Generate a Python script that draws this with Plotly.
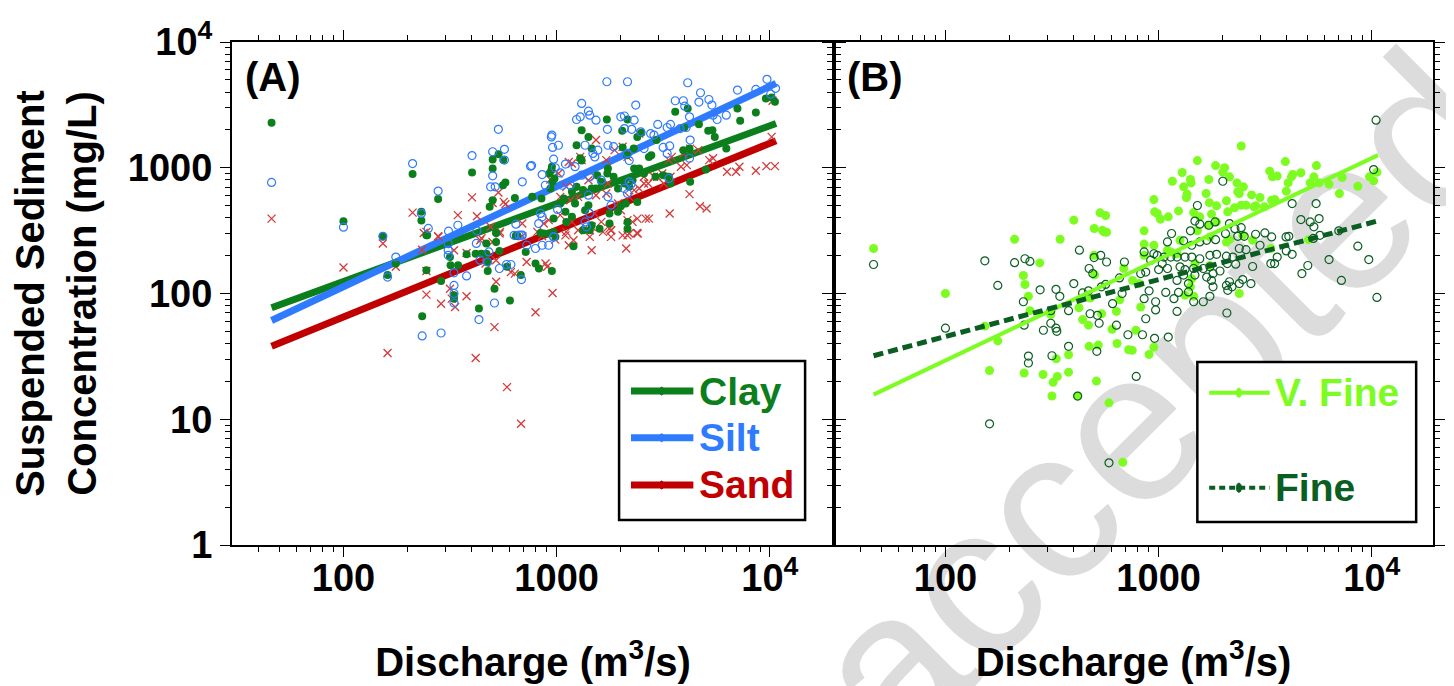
import math
import plotly.graph_objects as go

# ---------------- DATA ----------------
# Panel A: Clay (filled green circles)
clay_q = [46, 100, 153, 211, 232, 232, 245, 278, 401, 534, 501, 562, 501, 560, 575, 501, 485, 637, 521, 650,
          161, 176, 245, 234, 287, 247, 316, 318, 345, 330, 330, 378, 417, 443, 468, 468, 432, 472, 475, 539,
          511, 604, 520, 520, 585, 643, 654, 679, 716,
          796, 826, 950, 1200, 918, 986, 1330, 1430,
          1720, 2150, 1310, 1410, 1460, 1240, 2030, 2390, 2500, 2300, 2040, 2140, 2780, 2710, 2940, 3600, 4120,
          3970, 4650, 5140, 5380, 5520, 6250, 7050, 7260, 8600, 9580, 10200, 10570, 3930, 4200, 4230, 5010,
          3360, 3420, 3160, 2910, 2570, 2440, 2310, 2270, 2190, 2080, 1940, 1850, 1730, 1740, 1620, 1530, 1460,
          1330, 1290, 1310, 1180, 1080, 1040, 950, 944, 925, 957, 935, 977, 1220, 1410, 1360, 1180, 1100, 1110,
          968, 849, 768, 840, 870, 968, 1460, 1590, 1770, 1940, 2000, 2110, 2150, 2150, 1770, 2390, 1240, 1550]
clay_c = [2280, 376, 285, 890, 446, 380, 291, 565, 918, 1280, 1165, 1150, 986, 727, 764, 552, 489, 575, 304, 291,
          140, 173, 153, 66, 126, 290, 195, 168, 168, 97, 91, 205, 207, 207, 250, 207, 76, 178, 151, 218,
          109, 88, 257, 303, 163, 287, 287, 140, 214,
          173, 158, 151, 238, 300, 282, 318, 318,
          2420, 2420, 1990, 1760, 1420, 1510, 1970, 1760, 1900, 1420, 1450, 1260, 1260, 1220, 1660, 2790, 2960,
          2090, 2220, 1970, 1990, 1760, 1420, 2960, 2360, 2750, 3560, 3620, 3350, 1380, 1420, 773, 968,
          847, 750, 873, 847, 900, 986, 986, 796, 705, 750, 684, 847, 900, 986, 773, 684, 684,
          664, 1190, 1140, 643, 569, 519, 1020, 957, 900, 773, 684, 822, 519, 504, 459, 407, 446, 371,
          394, 569, 587, 303, 300, 309, 349, 328, 433, 446, 494, 519, 371, 328, 360, 535, 705, 873]

# Panel A: Silt (open blue circles)
silt_q = [46, 100, 153, 211, 232, 250, 278, 344, 311, 401, 423, 533, 501, 569, 569, 501, 490, 515, 690, 644,
          667, 690, 754,
          176, 161, 234, 287, 310, 310, 310, 330, 330, 330, 330, 378, 420, 432, 481, 437, 475, 511, 539, 582,
          610, 632, 684, 684, 724,
          796, 855, 918, 968,
          1720, 2150, 4120, 9700, 7050, 4730, 3600, 3930, 1310, 1410, 1430, 1240, 1290, 1530, 2000, 2080, 2350,
          3990, 4200, 4650, 5180, 5350, 5660, 6250, 5420, 2980, 3420, 3300, 4050, 3800, 1730, 2080, 2250, 2480,
          2760, 2860, 2310, 950, 944, 957, 1020, 968, 985, 763, 855, 1100, 1220, 1360, 1480, 1510, 1560, 1740,
          1850, 2150, 2190, 2570, 3160, 3390, 3300, 4230, 4200, 3360, 2190, 2230, 2080, 1620, 1430, 1040, 1310,
          1410, 1740, 1800, 2150, 1060, 1160, 885, 10640, 10090, 8600, 1010, 840, 855, 824, 1360, 1380, 968, 1430]
silt_c = [764, 337, 285, 1080, 433, 329, 652, 349, 313, 1250, 315, 2020, 1340, 1400, 1150, 862, 705, 705, 773, 356,
          291, 291, 1030,
          195, 135, 46, 48.5, 249, 221, 201, 146, 116, 100, 84, 138, 250, 62, 214, 184, 178, 84, 158, 170,
          170, 290, 290, 129, 242,
          228, 242, 242, 282,
          4830, 4830, 4740, 5050, 4150, 3950, 3410, 3410, 3250, 2820, 2620, 2420, 2540, 2390, 2540, 2580, 3150,
          3090, 2540, 3330, 3490, 3150, 2420, 2620, 2620, 2210, 2210, 2090, 2090, 2050, 2020, 2050, 2020, 1930,
          1870, 1820, 2390, 1820, 1760, 1450, 1510, 1170, 1000, 1040, 883, 1070, 1020, 1510, 1300, 1220, 1380, 1510,
          1470, 1300, 1140, 1420, 1450, 1490, 1300, 1660, 1190, 822, 773, 740, 684, 796, 847, 912, 873,
          605, 587, 504, 624, 726, 726, 726, 4280, 3850, 4200, 466, 433, 407, 360, 371, 339, 282, 433]

# Panel A: Sand (red crosses)
sand_q = [46, 211, 245, 278, 344, 401, 423, 444, 533, 501, 565, 575, 490, 540, 690,
          100, 153, 176, 161, 238, 279, 234, 245, 245, 287, 316, 322, 334, 330, 378, 378, 417, 438, 464, 520,
          520, 511, 542, 500, 585, 610, 637, 690, 723, 681,
          957, 796, 887, 902, 1100, 1140, 1200, 1460, 1430, 2120, 2150, 2400, 1650, 1800,
          10300, 10200, 9640, 10570, 8600, 7200, 6950, 6300, 4700, 5050, 4200, 3390, 5420, 5200, 4620, 4230,
          3930, 4080, 3830, 3470, 3360, 3130, 2960, 2690, 2570, 2860, 2440, 2150, 2040, 1870, 1710, 1530, 1290,
          1310, 1180, 1140, 968, 934, 1200, 1110, 1020, 1510, 1410, 1740, 2440, 2310, 2190, 1710, 1530, 1260,
          1160, 1040, 870, 918, 1040, 1180, 1430, 1460, 1620, 1770, 1800, 2150, 2390, 2620, 2710, 2270, 2380,
          2190, 2040, 1800, 1260, 1110, 985, 811, 855, 1510, 1940, 2000, 2570, 3180, 3420]
sand_c = [394, 440, 309, 285, 420, 581, 412, 275, 635, 525, 535, 513, 339, 300, 360,
          161, 250, 163, 33.6, 303, 282, 223, 151, 98, 83, 109, 91, 78, 221, 210, 95, 30.7, 265, 173, 184,
          124, 54, 309, 257, 18, 148, 144, 285, 178, 9.2,
          101, 71, 173, 163, 290, 242, 265, 221, 282, 228, 290, 300, 309, 318,
          3410, 1760, 1030, 1030, 946, 1020, 929, 929, 494, 474, 617, 433, 1190, 1150, 1380, 1420,
          1300, 1050, 1020, 1220, 1150, 900, 847, 750, 750, 847, 1870, 1220, 1470, 1380, 1150, 1660, 1220,
          1150, 1080, 1110, 847, 806, 705, 705, 900, 847, 796, 750, 684, 664, 587, 624, 605, 587,
          552, 587, 360, 383, 420, 371, 318, 339, 371, 328, 318, 383, 394, 394, 394, 371, 303,
          300, 290, 282, 318, 309, 268, 309, 285, 433, 519, 459, 847, 750, 847]

# Panel A regression lines (end points)
fitA_q = [46, 10700]
clay_fit = [77, 2250]
silt_fit = [61, 4690]
sand_fit = [38, 1640]

# Panel B: Very fine (filled light-green circles)
vfine_q = [211, 345, 400, 499, 531, 564, 545, 570,
           2440, 1520, 1850, 2040, 2000, 2150, 1290, 1160, 1410, 1420, 1310, 1720, 2330, 2500, 2350, 2390, 1670,
           1360, 1350, 950, 1730, 1870, 2080, 2730, 2990, 2270, 2440, 2570, 2800, 2860, 3130, 3320, 3420, 3600,
           3930, 4260, 4200, 4650, 4050, 3970, 3390, 3510, 5350, 5500, 5140, 5660, 6300, 7260, 8600, 7050, 9750,
           10200, 10570, 958, 985, 1020, 1110, 1240, 1460, 1560, 1770, 1870, 2110, 855, 1520, 1710,
           46, 100, 153, 176, 161, 234, 287, 316, 331, 320, 335, 378, 378, 417, 440, 469, 472, 521, 511, 585,
           605, 634, 638, 723, 679, 277, 232, 236, 245, 249, 312, 423, 477, 498, 554, 501, 540, 657, 686,
           855, 950, 1100, 1140, 1220, 855, 755, 811, 824, 782, 950, 902, 1330, 1410, 1430, 1480, 1740, 2080,
           2150, 2390, 2480, 2760, 3360, 5050, 752, 1260, 1740, 1460]
vfine_c = [270, 270, 383, 329, 438, 417, 318, 307,
           1490, 1140, 1040, 1000, 922, 847, 916, 781, 806, 758, 705, 806, 758, 705, 643, 624, 624,
           617, 580, 558, 528, 498, 546, 608, 580, 480, 504, 504, 489, 498, 489, 940, 847, 858,
           1120, 883, 847, 912, 758, 651, 552, 558, 847, 1040, 758, 758, 740, 836, 713, 624, 847,
           787, 922, 446, 433, 390, 407, 454, 440, 407, 428, 371, 446, 315, 315, 349,
           228, 100, 55, 42, 24.4, 23.3, 22.7, 15.3, 30.3, 19.7, 21.9, 23.7, 32.6, 15.3, 62, 56, 38, 38.9, 20.1, 13.5,
           52, 72, 40, 35.7, 4.55, 175, 139, 118, 95, 73, 68, 77, 92, 201, 309, 141, 69, 89, 158,
           247, 242, 221, 214, 207, 201, 127, 120, 78, 51, 37.5, 32.8, 97, 113, 131, 173, 282, 257,
           268, 100, 290, 265, 228, 268, 35.3, 265, 167, 95]

# Panel B: Fine (open dark-green circles)
fine_q = [10470, 10200, 2000, 1520, 4230, 5480, 4650, 5140, 5660, 5350, 7000, 1480, 1560, 1840, 1720, 2150,
          1410, 1150, 2280, 2440, 2850, 3150, 3390, 3960, 4080, 2350, 2520,
          46, 100, 161, 153, 176, 211, 236, 249, 232, 234, 245, 245, 278, 288, 312, 312, 330, 344, 330, 333,
          316, 378, 378, 400, 425, 440, 469, 472, 491, 498, 535, 570, 477, 516, 526, 513, 539, 564, 608, 634,
          655, 674, 691, 718, 585, 785, 417,
          1100, 1310, 1430, 1560, 1680, 1850, 2060, 3970, 4230, 3600, 3360, 3500, 2990, 2570, 2390, 2230,
          2080, 1870, 1740, 1560, 1430, 1330, 1220, 1140, 1060, 985, 950, 855, 918, 1040, 1100, 1000, 870, 824,
          1260, 1330, 1460, 1620, 1740, 1940, 2100, 2300, 1800, 1680, 1480, 1310, 1220, 1380, 1770, 2150, 2390,
          2760, 2480, 2710, 2080, 2110, 2210, 1800, 1380, 1240, 1080, 902, 1180, 855, 968, 968, 1220, 1460,
          1620, 1740, 870, 2090, 4700, 5010, 6300, 7200, 8600, 9680, 10570, 840, 957, 1110, 5320, 5710]
fine_c = [2390, 968, 781, 501, 519, 519, 387, 371, 394, 339, 315, 377, 356, 371, 349, 360,
          315, 300, 328, 334, 296, 303, 282, 282, 285, 285, 285,
          170, 53, 9.2, 182, 116, 176, 189, 180, 86, 56, 31.8, 28, 107, 51, 73, 58, 108, 95, 53, 50,
          32, 73, 38, 120, 221, 101, 105, 158, 144, 193, 201, 178, 69, 67, 58, 34.7, 113, 118, 83, 56,
          133, 100, 178, 47, 4.5, 21.9, 15.3,
          257, 262, 242, 257, 265, 268, 299, 218, 205, 195, 173, 173, 242, 223, 228, 195,
          198, 205, 201, 189, 195, 195, 195, 195, 195, 201, 207, 214, 184, 173, 158, 155, 148, 144,
          163, 155, 158, 158, 163, 151, 173, 171, 144, 135, 140, 140, 127, 120, 127, 124, 120,
          164, 129, 120, 116, 106, 113, 113, 103, 102, 102, 105, 91, 91, 86, 74, 72, 86,
          86, 95, 63, 70, 144, 167, 186, 127, 238, 186, 93, 47, 44, 45, 274, 290]

# Panel B regression lines (end points)
fitB_q = [46, 10700]
vfine_fit = [15.7, 1260]
fine_fit = [32, 378]

# Tick labels
x_tickvals = [100, 1000, 10000]
x_ticktext = ["100", "1000", "10<sup>4</sup>"]
y_tickvals = [1, 10, 100, 1000, 10000]
y_ticktext = ["1", "10", "100", "1000", "10<sup>4</sup>"]

legendA_labels = ["Clay", "Silt", "Sand"]
legendB_labels = ["V. Fine", "Fine"]

# ---------------- STYLE ----------------
FONT = "Liberation Sans, Arial, sans-serif"
CLAY = "#0b7f1b"
SILT = "#2f7bff"
SAND = "#c00000"
SAND_PT = "#d43a3a"
VFINE = "#7dfc22"
FINE = "#0a5e22"

fig = go.Figure()

# Panel A: regression lines then points
for yv, col in [(clay_fit, CLAY), (silt_fit, SILT), (sand_fit, SAND)]:
    fig.add_trace(go.Scatter(x=fitA_q, y=yv, mode="lines", line=dict(color=col, width=7),
                             xaxis="x", yaxis="y", showlegend=False, hoverinfo="skip"))
fig.add_trace(go.Scatter(x=sand_q, y=sand_c, mode="markers", name="Sand",
                         marker=dict(symbol="x-thin-open", size=8, color=SAND_PT,
                                     line=dict(color=SAND_PT, width=1.3)),
                         xaxis="x", yaxis="y", showlegend=False))
fig.add_trace(go.Scatter(x=clay_q, y=clay_c, mode="markers", name="Clay",
                         marker=dict(symbol="circle", size=8, color=CLAY, line=dict(width=0)),
                         xaxis="x", yaxis="y", showlegend=False))
fig.add_trace(go.Scatter(x=silt_q, y=silt_c, mode="markers", name="Silt",
                         marker=dict(symbol="circle-open", size=8, color=SILT, line=dict(color=SILT, width=1.2)),
                         xaxis="x", yaxis="y", showlegend=False))

# Panel B: points then lines
fig.add_trace(go.Scatter(x=vfine_q, y=vfine_c, mode="markers", name="V. Fine",
                         marker=dict(symbol="circle", size=9, color=VFINE, line=dict(width=0)),
                         xaxis="x2", yaxis="y2", showlegend=False))
fig.add_trace(go.Scatter(x=fine_q, y=fine_c, mode="markers", name="Fine",
                         marker=dict(symbol="circle-open", size=8, color=FINE, line=dict(color=FINE, width=1.2)),
                         xaxis="x2", yaxis="y2", showlegend=False))
fig.add_trace(go.Scatter(x=fitB_q, y=vfine_fit, mode="lines", line=dict(color=VFINE, width=4),
                         xaxis="x2", yaxis="y2", showlegend=False, hoverinfo="skip"))
fig.add_trace(go.Scatter(x=fitB_q, y=fine_fit, mode="lines", line=dict(color=FINE, width=5, dash="10px,5px"),
                         xaxis="x2", yaxis="y2", showlegend=False, hoverinfo="skip"))

x_minor = [40, 50, 60, 70, 80, 90, 200, 300, 400, 500, 600, 700, 800, 900,
           2000, 3000, 4000, 5000, 6000, 7000, 8000, 9000]
y_minor = [m * d for d in (1, 10, 100, 1000) for m in range(2, 10)]

axis_common = dict(type="log", showgrid=False, zeroline=False, showline=True, linecolor="black",
                   linewidth=2, mirror="ticks", ticks="outside", ticklen=10, tickwidth=1.3,
                   tickcolor="black")
tickfont = dict(family=FONT, size=38, color="black", weight="bold")
titlefont = dict(family=FONT, size=40, color="black", weight="bold")

# Page layout: the page body adds an 8 px offset; figure kept within 1454 px width.
FIG_W, FIG_H = 1438, 678
M_L, M_R, M_T, M_B = 224, 1, 34, 141
plot_w = FIG_W - M_L - M_R
split = 608 / plot_w
x_lo = math.log10(30)
decade_px = 608 / (math.log10(20000) - x_lo)
xB_hi = x_lo + (plot_w - 608) / decade_px

xa = dict(axis_common, tickmode="array",
          tickvals=x_tickvals, ticktext=x_ticktext, tickfont=tickfont, ticklabelstandoff=-12,
          minor=dict(ticks="outside", ticklen=5, tickwidth=1, tickcolor="black", tickvals=x_minor),
          title=dict(text="Discharge (m<sup>3</sup>/s)", font=titlefont, standoff=50))
ya = dict(axis_common, range=[0, 4], tickmode="array", tickvals=y_tickvals, ticktext=y_ticktext,
          tickfont=tickfont,
          minor=dict(ticks="outside", ticklen=5, tickwidth=1, tickcolor="black", tickvals=y_minor))

fig.update_layout(
    width=FIG_W, height=FIG_H, autosize=False,
    margin=dict(l=M_L, r=M_R, t=M_T, b=M_B, pad=0),
    paper_bgcolor="white", plot_bgcolor="rgba(0,0,0,0)",
    showlegend=False,
    xaxis=dict(xa, domain=[0, split], anchor="y", range=[x_lo, math.log10(20000)]),
    xaxis2=dict(xa, domain=[split, 1], anchor="y2", range=[x_lo, xB_hi]),
    yaxis=dict(ya, domain=[0, 1], anchor="x",
               title=dict(text="Suspended Sediment<br>Concentration (mg/L)", font=titlefont, standoff=22)),
    yaxis2=dict(ya, domain=[0, 1], anchor="x2", showticklabels=False),
)

# Watermark (behind the data)
fig.add_shape(type="rect", xref="paper", yref="paper", x0=0.707, x1=0.807, y0=0.268, y1=0.368,
              line=dict(width=0, color="rgba(0,0,0,0)"), fillcolor="rgba(0,0,0,0)", layer="below",
              label=dict(text="accepted", textangle=-45, textposition="middle center",
                         font=dict(family=FONT, size=215, color="#dcdcdc")))

# Panel labels
fig.add_annotation(text="(A)", xref="x domain", yref="y domain", x=0.018, y=0.93, xanchor="left",
                   yanchor="middle", showarrow=False, font=dict(family=FONT, size=40, color="black", weight="bold"))
fig.add_annotation(text="(B)", xref="x2 domain", yref="y2 domain", x=0.018, y=0.93, xanchor="left",
                   yanchor="middle", showarrow=False, font=dict(family=FONT, size=40, color="black", weight="bold"))

# Legend A (drawn in panel-A axis-domain coordinates)
fig.add_shape(type="rect", xref="x domain", yref="y domain", x0=0.643, x1=0.952, y0=0.0497, y1=0.3658,
              line=dict(color="black", width=2.5), fillcolor="white")
for lab, col, yy in zip(legendA_labels, [CLAY, SILT, SAND], [0.306, 0.2133, 0.1193]):
    fig.add_shape(type="line", xref="x domain", yref="y domain", x0=0.6628, x1=0.7664, y0=yy, y1=yy,
                  line=dict(color=col, width=7))
    fig.add_shape(type="circle", xref="x domain", yref="y domain", x0=0.7105, x1=0.7171,
                  y0=yy - 0.008, y1=yy + 0.008, line=dict(color=col, width=1), fillcolor=col)
    fig.add_annotation(text=lab, xref="x domain", yref="y domain", x=0.772, y=yy, xanchor="left",
                       yanchor="middle", showarrow=False,
                       font=dict(family=FONT, size=39, color=col, weight="bold"))

# Legend B (panel-B axis-domain coordinates)
fig.add_shape(type="rect", xref="x2 domain", yref="y2 domain", x0=0.6066, x1=0.9719, y0=0.0457, y1=0.3638,
              line=dict(color="black", width=2.5), fillcolor="white")
for lab, col, yy, dash, w in zip(legendB_labels, [VFINE, FINE], [0.3028, 0.1139], ["solid", "6px,4px"], [4, 4]):
    fig.add_shape(type="line", xref="x2 domain", yref="y2 domain", x0=0.6264, x1=0.7273, y0=yy, y1=yy,
                  line=dict(color=col, width=w, dash=dash))
    fig.add_shape(type="circle", xref="x2 domain", yref="y2 domain", x0=0.672, x1=0.680,
                  y0=yy - 0.009, y1=yy + 0.009, line=dict(color=col, width=1), fillcolor=col)
    fig.add_annotation(text=lab, xref="x2 domain", yref="y2 domain", x=0.7335, y=yy, xanchor="left",
                       yanchor="middle", showarrow=False,
                       font=dict(family=FONT, size=39, color=col, weight="bold"))

fig.write_html("out.html")
